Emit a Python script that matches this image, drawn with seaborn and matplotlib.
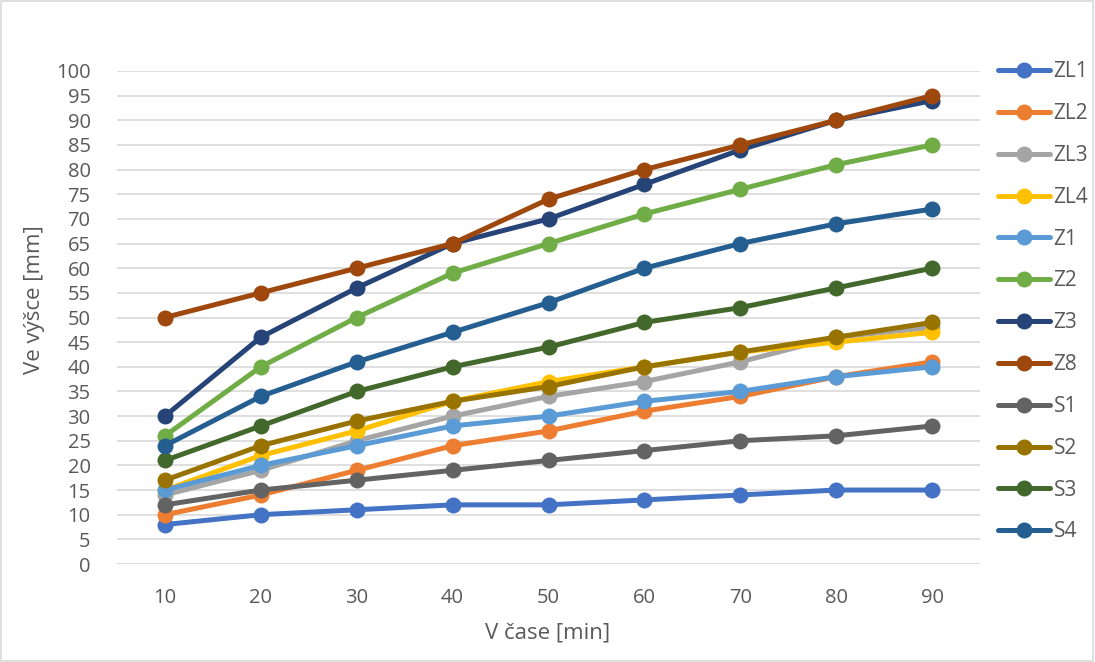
import matplotlib
matplotlib.use("Agg")
import matplotlib.pyplot as plt
from matplotlib.patches import Rectangle
from matplotlib.lines import Line2D
import seaborn as sns
import pandas as pd

times = [10, 20, 30, 40, 50, 60, 70, 80, 90]
series_names = ["ZL1", "ZL2", "ZL3", "ZL4", "Z1", "Z2", "Z3", "Z8", "S1", "S2", "S3", "S4"]
ZL1 = [8, 10, 11, 12, 12, 13, 14, 15, 15]
ZL2 = [10, 14, 19, 24, 27, 31, 34, 38, 41]
ZL3 = [14, 19, 25, 30, 34, 37, 41, 46, 48]
ZL4 = [15, 22, 27, 33, 37, 40, 43, 45, 47]
Z1 = [15, 20, 24, 28, 30, 33, 35, 38, 40]
Z2 = [26, 40, 50, 59, 65, 71, 76, 81, 85]
Z3 = [30, 46, 56, 65, 70, 77, 84, 90, 94]
Z8 = [50, 55, 60, 65, 74, 80, 85, 90, 95]
S1 = [12, 15, 17, 19, 21, 23, 25, 26, 28]
S2 = [17, 24, 29, 33, 36, 40, 43, 46, 49]
S3 = [21, 28, 35, 40, 44, 49, 52, 56, 60]
S4 = [24, 34, 41, 47, 53, 60, 65, 69, 72]
y_ticks = list(range(0, 101, 5))
x_label = "V čase [min]"
y_label = "Ve výšce [mm]"

values = [ZL1, ZL2, ZL3, ZL4, Z1, Z2, Z3, Z8, S1, S2, S3, S4]
colors = ["#4472C4", "#ED7D31", "#A5A5A5", "#FFC000", "#5B9BD5", "#70AD47",
          "#264478", "#9E480E", "#636363", "#997300", "#43682B", "#255E91"]
palette = dict(zip(series_names, colors))

rows = []
for name, vals in zip(series_names, values):
    for t, v in zip(times, vals):
        rows.append({"t": t, "v": v, "s": name})
df = pd.DataFrame(rows)

sns.set_theme(style="white")
plt.rcParams["font.family"] = ["Open Sans", "DejaVu Sans"]
text_col = "#595959"

fig = plt.figure(figsize=(10.95, 6.62), dpi=100)
ax = fig.add_axes([117 / 1095, 1 - 564 / 662, (980 - 117) / 1095, (564 - 71) / 662])

for name in series_names:
    sub = df[df["s"] == name]
    sns.lineplot(data=sub, x="t", y="v", color=palette[name], marker="o",
                 markersize=11.5, markeredgewidth=0, linewidth=3.6, ax=ax,
                 legend=False, zorder=3)

ax.set_xlim(5, 95)
ax.set_ylim(0, 100)
ax.set_xticks(times)
ax.set_yticks(y_ticks)
ax.grid(axis="y", color="#D9D9D9", linewidth=1.2, zorder=0)
ax.grid(axis="x", visible=False)
for sp in ax.spines.values():
    sp.set_visible(False)
ax.tick_params(axis="both", length=0, labelsize=14.5, colors=text_col)
ax.tick_params(axis="y", pad=19)
ax.tick_params(axis="x", pad=17)
ax.set_xlabel("")
ax.set_ylabel("")
fig.text(548 / 1095, 1 - 633 / 662, x_label, fontsize=16, color=text_col,
         ha="center", va="center")
fig.text(35 / 1095, 1 - 300 / 662, y_label, fontsize=16, color=text_col,
         ha="center", va="center", rotation=90)

handles = [Line2D([0], [0], color=c, lw=3.6, marker="o", markersize=11.5,
                  markeredgewidth=0) for c in colors]
leg = fig.legend(handles, series_names, loc="upper left",
                 bbox_to_anchor=(990 / 1095, 1 - 53 / 662), frameon=False,
                 fontsize=15, labelspacing=1.0, handlelength=2.5,
                 handletextpad=0.15, borderaxespad=0)
for t in leg.get_texts():
    t.set_color(text_col)

fig.patches.append(Rectangle((0.001, 0.001), 0.997, 0.997, transform=fig.transFigure,
                             fill=False, edgecolor="#D9D9D9", linewidth=1.2))

fig.savefig("out.png", dpi=100)
